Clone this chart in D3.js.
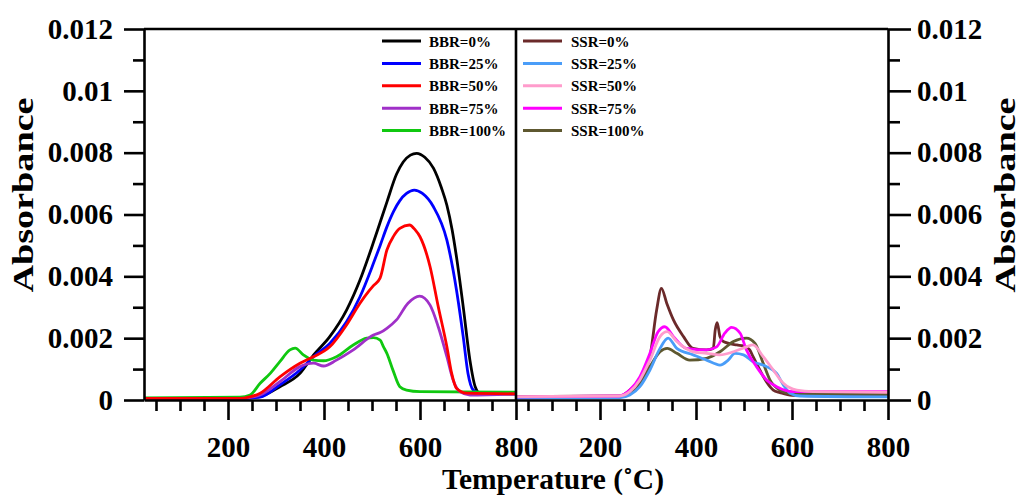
<!DOCTYPE html>
<html>
<head>
<meta charset="utf-8">
<script src="https://cdn.jsdelivr.net/npm/d3@7"></script>
<style>
  html, body { margin: 0; padding: 0; background: #fff; }
  svg { display: block; }
  text { font-family: "Liberation Serif", "Times New Roman", serif; font-weight: bold; fill: #000; }
</style>
</head>
<body>
<svg id="chart" width="1022" height="497"></svg>
<script>
// ---------------- DATA (temperature °C, absorbance) ----------------
const bbrLabels = ["BBR=0%", "BBR=25%", "BBR=50%", "BBR=75%", "BBR=100%"];
const ssrLabels = ["SSR=0%", "SSR=25%", "SSR=50%", "SSR=75%", "SSR=100%"];
const bbrColors = ["#000000", "#0000ff", "#ff0000", "#a030c8", "#10c810"];
const ssrColors = ["#6b2a2a", "#4a9df8", "#ff9ccc", "#ff00ff", "#5e5830"];

const bbr0 = [[25,0.00005],[150,0.00005],[225,0.00005],[250,0.00008],[267,0.00011],[308,0.00043],[350,0.00086],[378,0.00145],[412,0.00205],[447,0.00291],[475,0.00388],[503,0.0051],[517,0.00575],[531,0.0064],[551,0.0073],[565,0.0077],[580,0.00792],[593,0.00798],[610,0.00785],[628,0.0075],[645,0.00685],[656,0.0063],[667,0.0055],[676,0.00463],[690,0.00302],[704,0.00129],[715,0.00043],[725,0.00022],[760,0.0002],[800,0.0002]];
const bbr25 = [[25,0.00005],[225,0.00005],[250,0.00007],[267,0.00009],[308,0.00049],[350,0.00097],[378,0.0014],[412,0.00183],[447,0.00253],[475,0.00334],[503,0.00442],[517,0.005],[531,0.0056],[545,0.0061],[558,0.00645],[572,0.00668],[588,0.00679],[605,0.00668],[628,0.00625],[656,0.00517],[676,0.00356],[690,0.00205],[700,0.00086],[711,0.00032],[725,0.00022],[800,0.0002]];
const bbr50 = [[25,0.00005],[225,0.00005],[245,0.0001],[267,0.00022],[308,0.00075],[350,0.00119],[378,0.0014],[412,0.00172],[447,0.00243],[475,0.00313],[495,0.00355],[503,0.0037],[517,0.00395],[531,0.00485],[545,0.0053],[558,0.00555],[578,0.00566],[590,0.0055],[600,0.00528],[621,0.00431],[638,0.00302],[656,0.00172],[666,0.00086],[676,0.00038],[697,0.00022],[800,0.0002]];
const bbr75 = [[25,0.00005],[225,0.00005],[245,0.00008],[267,0.00016],[308,0.00059],[350,0.00108],[378,0.00119],[399,0.0011],[426,0.00129],[461,0.00162],[503,0.0021],[517,0.00218],[531,0.00232],[551,0.00259],[575,0.00313],[599,0.00336],[621,0.00307],[638,0.00237],[656,0.0014],[669,0.00065],[683,0.00027],[704,0.00016],[800,0.0002]];
const bbr100 = [[25,0.00007],[225,0.00009],[246,0.00016],[267,0.00054],[288,0.00086],[308,0.00124],[329,0.00162],[340,0.00168],[357,0.00146],[378,0.00129],[399,0.00127],[426,0.0014],[461,0.00178],[489,0.002],[503,0.00202],[517,0.00194],[524,0.00172],[531,0.00151],[544,0.00095],[558,0.00043],[572,0.00032],[600,0.00027],[800,0.00025]];

const ssr0 = [[25,0.00011],[242,0.00013],[262,0.00032],[283,0.00065],[304,0.0014],[318,0.00291],[328,0.00361],[339,0.00313],[353,0.00259],[374,0.00205],[394,0.00167],[422,0.00162],[436,0.00167],[440,0.00226],[444,0.0025],[450,0.00205],[457,0.00189],[485,0.00178],[499,0.00175],[512,0.00162],[519,0.0014],[533,0.00097],[547,0.00058],[561,0.00032],[575,0.00024],[600,0.00015],[800,0.00012]];
const ssr25 = [[25,0.00006],[240,0.00007],[262,0.00016],[283,0.00043],[304,0.00097],[325,0.00167],[342,0.002],[360,0.00167],[394,0.00146],[422,0.00129],[450,0.00113],[467,0.00129],[481,0.00151],[499,0.00146],[519,0.00124],[547,0.00108],[568,0.00086],[582,0.00049],[596,0.00022],[617,0.00013],[800,0.0001]];
const ssr50 = [[25,0.00011],[240,0.00013],[262,0.00027],[283,0.00065],[304,0.00129],[325,0.00205],[340,0.00221],[360,0.00189],[394,0.00156],[422,0.00151],[450,0.00146],[478,0.00156],[505,0.00172],[519,0.00178],[540,0.0014],[561,0.00097],[582,0.00054],[610,0.00032],[644,0.00027],[800,0.00025]];
const ssr75 = [[25,0.0001],[240,0.00013],[262,0.00032],[283,0.00075],[304,0.00151],[321,0.00221],[335,0.00237],[353,0.00205],[380,0.00167],[422,0.00162],[443,0.00172],[460,0.00216],[474,0.00235],[492,0.00216],[505,0.00162],[526,0.00108],[547,0.00065],[568,0.00043],[603,0.00027],[800,0.00027]];
const ssr100 = [[25,0.0001],[240,0.00012],[262,0.00022],[283,0.00054],[304,0.00108],[325,0.00156],[340,0.00167],[360,0.00151],[387,0.00129],[422,0.00135],[450,0.00156],[478,0.00189],[505,0.002],[523,0.00183],[540,0.00119],[554,0.00065],[575,0.00032],[600,0.0002],[800,0.00018]];

const yMajorTicks = [0, 0.002, 0.004, 0.006, 0.008, 0.01, 0.012];
const yMajorLabels = ["0", "0.002", "0.004", "0.006", "0.008", "0.01", "0.012"];
const yMinorTicks = [0.001, 0.003, 0.005, 0.007, 0.009, 0.011];
const xMajorTicks = [200, 400, 600, 800];
const xMajorLabels = ["200", "400", "600", "800"];
const xMinorTicks = [50, 100, 150, 250, 300, 350, 450, 500, 550, 650, 700, 750];

// ---------------- LAYOUT ----------------
const svg = d3.select("#chart");
const padL = 144, padMid = 516, padR = 888, padT = 29, padB = 400;

const xL = d3.scaleLinear().domain([25, 800]).range([padL, padMid]);
const xR = d3.scaleLinear().domain([25, 800]).range([padMid, padR]);
const y = d3.scaleLinear().domain([0, 0.012]).range([padB, padT]);

const axisStroke = 2.6;

function styleAxis(g) {
  g.selectAll("path.domain").attr("stroke", "#000").attr("stroke-width", axisStroke);
  g.selectAll(".tick line").attr("stroke", "#000").attr("stroke-width", axisStroke);
  g.selectAll(".tick text").style("font-family", '"Liberation Serif", serif').style("font-weight", "bold");
}

const defs = svg.append("defs");
defs.append("clipPath").attr("id", "clipL").append("rect").attr("x", padL).attr("y", padT).attr("width", padMid - padL).attr("height", padB - padT + 2);
defs.append("clipPath").attr("id", "clipR").append("rect").attr("x", padMid).attr("y", padT).attr("width", padR - padMid).attr("height", padB - padT + 2);

function drawSeries(series, colors, xs, clip) {
  const line = d3.line().x(d => xs(d[0])).y(d => y(d[1])).curve(d3.curveMonotoneX);
  const g = svg.append("g").attr("clip-path", `url(#${clip})`);
  series.forEach(s => {
    g.append("path").datum(s.data)
      .attr("fill", "none")
      .attr("stroke", colors[s.c])
      .attr("stroke-width", 2.8)
      .attr("stroke-linejoin", "round")
      .attr("d", line);
  });
}
drawSeries([
  {data: bbr0, c: 0}, {data: bbr25, c: 1}, {data: bbr100, c: 4}, {data: bbr75, c: 3}, {data: bbr50, c: 2}
], bbrColors, xL, "clipL");
drawSeries([
  {data: ssr0, c: 0}, {data: ssr100, c: 4}, {data: ssr25, c: 1}, {data: ssr75, c: 3}, {data: ssr50, c: 2}
], ssrColors, xR, "clipR");

svg.append("line").attr("x1", padL).attr("x2", padR).attr("y1", padT).attr("y2", padT)
  .attr("stroke", "#000").attr("stroke-width", axisStroke);
svg.append("line").attr("x1", padMid).attr("x2", padMid).attr("y1", padT).attr("y2", padB)
  .attr("stroke", "#000").attr("stroke-width", axisStroke);

const gyL = svg.append("g").attr("transform", `translate(${padL},0)`)
  .call(d3.axisLeft(y).tickValues(yMajorTicks).tickSize(20).tickSizeOuter(0).tickPadding(11)
    .tickFormat((d, i) => yMajorLabels[i]));
gyL.call(styleAxis);
gyL.selectAll(".tick text").attr("font-size", 29);
const gyLm = svg.append("g").attr("transform", `translate(${padL},0)`)
  .call(d3.axisLeft(y).tickValues(yMinorTicks).tickSize(11).tickSizeOuter(0).tickFormat(""));
gyLm.call(styleAxis); gyLm.select("path.domain").remove();

const gyR = svg.append("g").attr("transform", `translate(${padR},0)`)
  .call(d3.axisRight(y).tickValues(yMajorTicks).tickSize(23).tickSizeOuter(0).tickPadding(6)
    .tickFormat((d, i) => yMajorLabels[i]));
gyR.call(styleAxis);
gyR.selectAll(".tick text").attr("font-size", 29);
const gyRm = svg.append("g").attr("transform", `translate(${padR},0)`)
  .call(d3.axisRight(y).tickValues(yMinorTicks).tickSize(12).tickSizeOuter(0).tickFormat(""));
gyRm.call(styleAxis); gyRm.select("path.domain").remove();

function xAxes(xs) {
  const g = svg.append("g").attr("transform", `translate(0,${padB})`)
    .call(d3.axisBottom(xs).tickValues(xMajorTicks).tickSize(20).tickSizeOuter(0).tickPadding(16)
      .tickFormat((d, i) => xMajorLabels[i]));
  g.call(styleAxis);
  g.selectAll(".tick text").attr("font-size", 29);
  const gm = svg.append("g").attr("transform", `translate(0,${padB})`)
    .call(d3.axisBottom(xs).tickValues(xMinorTicks).tickSize(11).tickSizeOuter(0).tickFormat(""));
  gm.call(styleAxis); gm.select("path.domain").remove();
}
xAxes(xL);
xAxes(xR);

svg.append("text").attr("x", 553).attr("y", 489).attr("text-anchor", "middle")
  .attr("font-size", 29.5).text("Temperature (˚C)");
svg.append("text").attr("transform", "translate(33,195) rotate(-90)").attr("text-anchor", "middle")
  .attr("font-size", 30).attr("textLength", 195).attr("lengthAdjust", "spacingAndGlyphs").text("Absorbance");
svg.append("text").attr("transform", "translate(1015,195) rotate(-90)").attr("text-anchor", "middle")
  .attr("font-size", 29).attr("textLength", 195).attr("lengthAdjust", "spacingAndGlyphs").text("Absorbance");

function legend(labels, colors, x0, textX) {
  const g = svg.append("g");
  labels.forEach((lab, i) => {
    const yy = 41 + i * 22.4;
    g.append("line").attr("x1", x0).attr("x2", x0 + 39).attr("y1", yy).attr("y2", yy)
      .attr("stroke", colors[i]).attr("stroke-width", 3);
    g.append("text").attr("x", textX).attr("y", yy + 5.5).attr("font-size", 15).text(lab);
  });
}
legend(bbrLabels, bbrColors, 382, 429);
legend(ssrLabels, ssrColors, 523, 571);
</script>
</body>
</html>
